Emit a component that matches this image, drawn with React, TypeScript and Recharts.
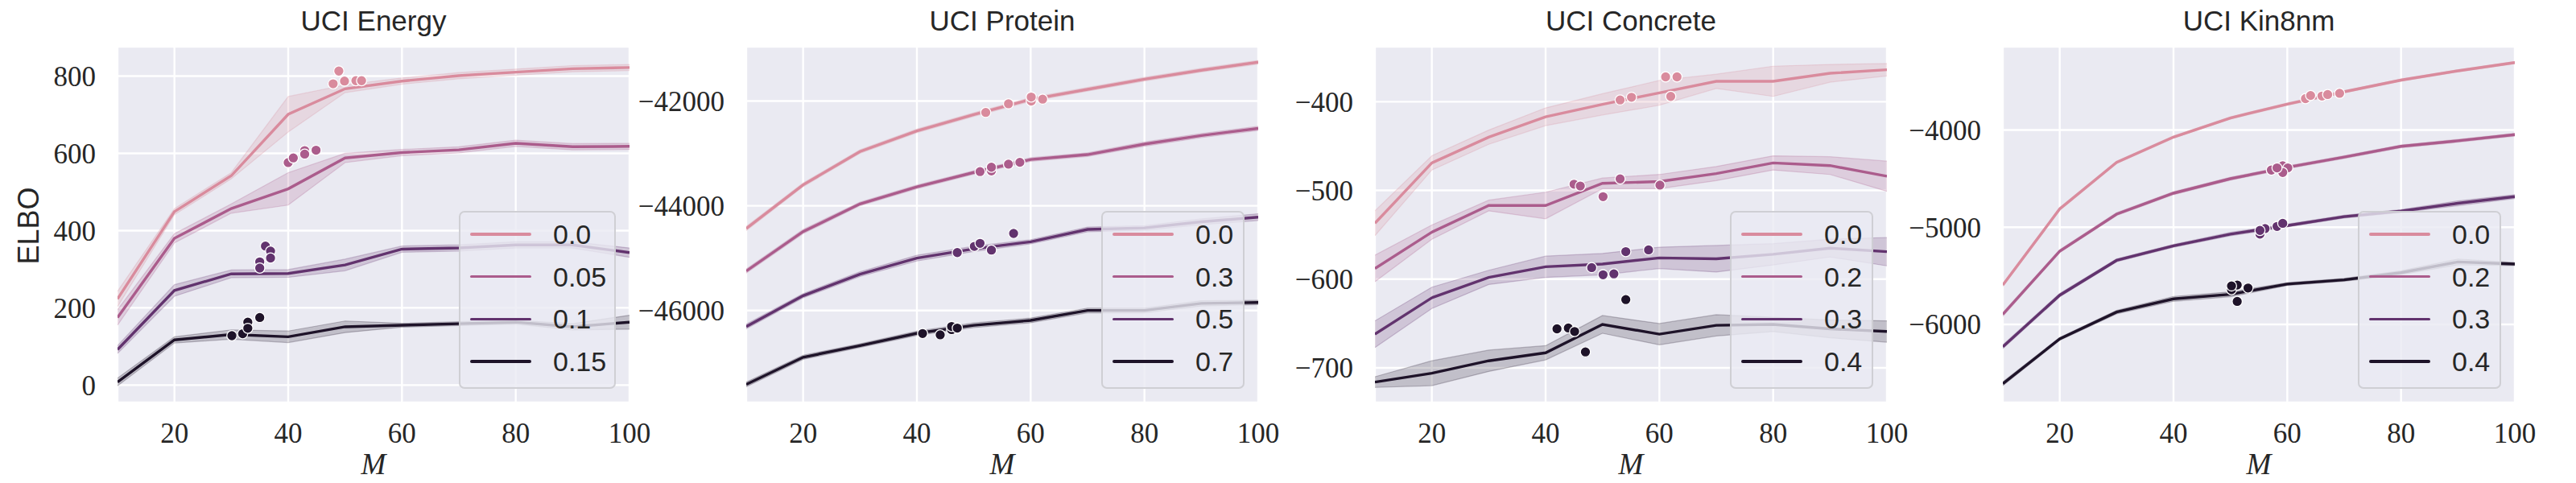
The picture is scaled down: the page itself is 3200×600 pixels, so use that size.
import React from 'react';
import { ComposedChart, Line, Area, Scatter, XAxis, YAxis, CartesianGrid } from 'recharts';

// ---------- data ----------
const M_VALUES = [10, 20, 30, 40, 50, 60, 70, 80, 90, 100];
const X_TICKS = [20, 40, 60, 80, 100];
const COLORS = ['#d98b9d', '#ab5c8c', '#62336e', '#1e1329'];

const TITLES = ['UCI Energy', 'UCI Protein', 'UCI Concrete', 'UCI Kin8nm'];

// UCI Energy
const ENERGY_LEVELS = ['0.0', '0.05', '0.1', '0.15'];
const ENERGY_TICKS = [0, 200, 400, 600, 800];
const ENERGY_DOMAIN = [-45, 876];
const ENERGY_MEAN = [
  [223, 449, 542, 701, 767, 787, 801, 810, 819, 822],
  [175, 380, 457, 508, 588, 602, 609, 626, 617, 618],
  [92, 245, 288, 289, 311, 352, 355, 363, 363, 343],
  [8, 117, 131, 125, 151, 155, 159, 163, 151, 163],
];
const ENERGY_SPREAD = [
  [20, 8, 8, 46, 10, 8, 8, 8, 8, 8],
  [20, 12, 12, 42, 12, 8, 8, 8, 8, 8],
  [10, 15, 10, 10, 15, 8, 8, 8, 8, 12],
  [10, 8, 12, 15, 15, 5, 5, 5, 8, 18],
];
const ENERGY_POINTS = [
  [[48.9, 813], [47.9, 780], [49.9, 787], [51.9, 788], [52.9, 788]],
  [[40.0, 576], [40.9, 588], [42.9, 607], [42.9, 598], [44.9, 608]],
  [[36.0, 360], [36.9, 347], [36.9, 329], [35.0, 319], [35.0, 303]],
  [[30.1, 128], [32.0, 133], [32.9, 163], [32.9, 147], [35.0, 175]],
];

// UCI Protein
const PROTEIN_LEVELS = ['0.0', '0.3', '0.5', '0.7'];
const PROTEIN_TICKS = [-46000, -44000, -42000];
const PROTEIN_DOMAIN = [-47755, -40963];
const PROTEIN_MEAN = [
  [-44434, -43600, -42964, -42570, -42259, -41971, -41777, -41583, -41412, -41259],
  [-45246, -44493, -43964, -43640, -43364, -43117, -43023, -42823, -42659, -42523],
  [-46305, -45716, -45305, -44999, -44822, -44687, -44452, -44423, -44305, -44217],
  [-47410, -46892, -46669, -46434, -46281, -46187, -45998, -45998, -45863, -45846],
];
const PROTEIN_SPREAD = [
  [40, 35, 35, 35, 35, 35, 35, 35, 35, 35],
  [40, 40, 35, 35, 35, 35, 35, 40, 40, 40],
  [45, 40, 45, 55, 50, 40, 45, 45, 55, 65],
  [45, 40, 35, 40, 45, 45, 45, 45, 50, 40],
];
const PROTEIN_POINTS = [
  [[52.1, -42218], [56.1, -42053], [60.1, -42000], [60.1, -41924], [62.1, -41965]],
  [[51.1, -43347], [53.1, -43335], [53.1, -43264], [56.1, -43205], [58.1, -43170]],
  [[47.1, -44893], [50.1, -44775], [51.1, -44717], [53.1, -44846], [57.0, -44528]],
  [[41.0, -46439], [44.1, -46463], [46.1, -46363], [46.1, -46304], [47.1, -46334]],
];

// UCI Concrete
const CONCRETE_LEVELS = ['0.0', '0.2', '0.3', '0.4'];
const CONCRETE_TICKS = [-700, -600, -500, -400];
const CONCRETE_DOMAIN = [-739, -338];
const CONCRETE_MEAN = [
  [-537, -469, -440, -417, -403, -390, -377, -377, -368, -364],
  [-588, -547, -517, -517, -492, -490, -481, -469, -472, -484],
  [-662, -621, -598, -586, -583, -576, -577, -572, -565, -569],
  [-716, -706, -692, -683, -651, -662, -652, -651, -656, -659],
];
const CONCRETE_SPREAD = [
  [14, 8, 8, 10, 12, 14, 8, 17, 10, 7],
  [15, 8, 6, 15, 6, 8, 8, 8, 10, 17],
  [15, 12, 8, 12, 12, 12, 15, 12, 10, 16],
  [6, 14, 12, 8, 10, 12, 12, 8, 10, 12],
];
const CONCRETE_POINTS = [
  [[53.1, -398], [55.1, -395], [61.1, -372], [63.1, -372], [62.0, -394]],
  [[45.0, -493], [46.1, -495], [50.1, -507], [53.1, -487], [60.1, -494]],
  [[48.1, -587], [50.1, -595], [52.0, -594], [54.1, -569], [58.1, -567]],
  [[42.0, -656], [44.0, -655], [45.1, -659], [47.0, -682], [54.1, -623]],
];

// UCI Kin8nm
const KIN_LEVELS = ['0.0', '0.2', '0.3', '0.4'];
const KIN_TICKS = [-6000, -5000, -4000];
const KIN_DOMAIN = [-6803, -3143];
const KIN_MEAN = [
  [-5594, -4812, -4333, -4073, -3876, -3734, -3607, -3487, -3391, -3306],
  [-5896, -5246, -4865, -4650, -4501, -4384, -4279, -4168, -4111, -4048],
  [-6229, -5699, -5341, -5192, -5071, -4983, -4891, -4834, -4754, -4685],
  [-6609, -6149, -5873, -5737, -5690, -5585, -5541, -5468, -5357, -5379],
];
const KIN_SPREAD = [
  [15, 15, 12, 12, 12, 12, 12, 12, 12, 12],
  [20, 15, 15, 15, 15, 15, 15, 15, 15, 15],
  [20, 18, 15, 15, 18, 15, 15, 15, 25, 20],
  [20, 15, 18, 25, 25, 15, 15, 20, 30, 15],
];
const KIN_POINTS = [
  [[63.2, -3677], [64.1, -3645], [66.1, -3651], [67.1, -3635], [69.2, -3623]],
  [[57.2, -4412], [59.2, -4368], [60.1, -4390], [59.2, -4437], [58.2, -4390]],
  [[55.2, -5071], [56.1, -5014], [58.2, -4992], [59.2, -4960], [55.2, -5033]],
  [[50.2, -5642], [51.2, -5595], [51.2, -5763], [53.1, -5626], [50.2, -5604]],
];

const PANELS = [
  { levels: ENERGY_LEVELS, ticks: ENERGY_TICKS, domain: ENERGY_DOMAIN, mean: ENERGY_MEAN, spread: ENERGY_SPREAD, points: ENERGY_POINTS },
  { levels: PROTEIN_LEVELS, ticks: PROTEIN_TICKS, domain: PROTEIN_DOMAIN, mean: PROTEIN_MEAN, spread: PROTEIN_SPREAD, points: PROTEIN_POINTS },
  { levels: CONCRETE_LEVELS, ticks: CONCRETE_TICKS, domain: CONCRETE_DOMAIN, mean: CONCRETE_MEAN, spread: CONCRETE_SPREAD, points: CONCRETE_POINTS },
  { levels: KIN_LEVELS, ticks: KIN_TICKS, domain: KIN_DOMAIN, mean: KIN_MEAN, spread: KIN_SPREAD, points: KIN_POINTS },
];

// ---------- layout ----------
const PLOT_LEFTS = [146, 927, 1708, 2488];
const PLOT_W = 636;
const PLOT_TOP = 58;
const PLOT_H = 442;
const Y_AXIS_W = 130;
const CHART_W = 822;
const CHART_H = 600;
const LEGEND_WIDTHS = [195, 178, 178, 178];

const TEXT = '#262626';
const SERIF = '"Liberation Serif", "DejaVu Serif", serif';
const SANS = '"Liberation Sans", "DejaVu Sans", sans-serif';

const fmt = (v: number) => (v < 0 ? '\u2212' + Math.abs(v) : String(v));

function buildRows(mean: number[][], spread: number[][]) {
  return M_VALUES.map((m, j) => {
    const r: Record<string, any> = { M: m };
    mean.forEach((s, i) => {
      r['m' + i] = s[j];
      r['b' + i] = [s[j] - spread[i][j], s[j] + spread[i][j]];
    });
    return r;
  });
}

function Dot(props: any) {
  const { cx, cy, fill } = props;
  if (cx == null || cy == null) return null;
  return <circle cx={cx} cy={cy} r={6.3} fill={fill} stroke="#ffffff" strokeWidth={1.3} />;
}

function Legend({ left, width, levels }: { left: number; width: number; levels: string[] }) {
  return (
    <div
      style={{
        position: 'absolute',
        left,
        top: 262,
        width,
        height: 221,
        boxSizing: 'border-box',
        border: '2px solid rgba(204,204,208,0.9)',
        borderRadius: 7,
        background: 'rgba(234,234,242,0.8)',
      }}
    >
      {levels.map((lv, i) => {
        const cy = 27 + i * 52.7;
        return (
          <React.Fragment key={lv}>
            <div
              style={{
                position: 'absolute',
                left: 12,
                top: cy - 1.7,
                width: 76,
                height: 3.4,
                borderRadius: 2,
                background: COLORS[i],
              }}
            />
            <div
              style={{
                position: 'absolute',
                left: 115,
                top: cy - 17,
                height: 34,
                lineHeight: '34px',
                fontSize: 34,
                fontFamily: SANS,
                color: TEXT,
                whiteSpace: 'nowrap',
              }}
            >
              {lv}
            </div>
          </React.Fragment>
        );
      })}
    </div>
  );
}

function AxisTick(props: any) {
  const { x, y, payload, orientation } = props;
  const isX = orientation === 'bottom';
  return (
    <text
      x={x}
      y={y}
      dy={isX ? '0.71em' : '0.355em'}
      textAnchor={isX ? 'middle' : 'end'}
      fontFamily={SERIF}
      fontSize={35}
      fill={TEXT}
    >
      {fmt(payload.value)}
    </text>
  );
}

function Panel({ idx }: { idx: number }) {
  const p = PANELS[idx];
  const rows = buildRows(p.mean, p.spread);
  const plotLeft = PLOT_LEFTS[idx];
  const chartLeft = plotLeft - 146;
  return (
    <div style={{ position: 'absolute', left: chartLeft, top: 0, width: CHART_W, height: CHART_H }}>
      <ComposedChart
        width={CHART_W}
        height={CHART_H}
        data={rows}
        margin={{ top: PLOT_TOP, right: CHART_W - 146 - PLOT_W, bottom: CHART_H - PLOT_TOP - PLOT_H - 40, left: 146 - Y_AXIS_W }}
      >
        <CartesianGrid fill="#eaeaf2" fillOpacity={1} stroke="#ffffff" strokeWidth={2.4} />
        <XAxis
          dataKey="M"
          type="number"
          domain={[10, 100]}
          ticks={X_TICKS}
          interval={0}
          allowDataOverflow
          axisLine={false}
          tickLine={false}
          tickSize={0}
          tickMargin={25}
          height={40}
          tick={<AxisTick orientation="bottom" />}
        />
        <YAxis
          type="number"
          domain={p.domain}
          ticks={p.ticks}
          interval={0}
          allowDataOverflow
          axisLine={false}
          tickLine={false}
          tickSize={0}
          tickMargin={27}
          width={Y_AXIS_W}
          tick={<AxisTick orientation="left" />}
        />
        {p.levels.map((lv, i) => (
          <Area
            key={'a' + lv}
            dataKey={'b' + i}
            type="linear"
            stroke={COLORS[i]}
            strokeOpacity={0.25}
            strokeWidth={1.2}
            fill={COLORS[i]}
            fillOpacity={0.2}
            dot={false}
            activeDot={false}
            isAnimationActive={false}
          />
        ))}
        {p.levels.map((lv, i) => (
          <Line
            key={'l' + lv}
            dataKey={'m' + i}
            type="linear"
            stroke={COLORS[i]}
            strokeWidth={3.4}
            dot={false}
            activeDot={false}
            isAnimationActive={false}
          />
        ))}
        {p.levels.map((lv, i) => (
          <Scatter
            key={'s' + lv}
            data={p.points[i].map(([x, y]) => ({ M: x, v: y }))}
            dataKey="v"
            fill={COLORS[i]}
            shape={(props: any) => <Dot {...props} fill={COLORS[i]} />}
            isAnimationActive={false}
          />
        ))}
      </ComposedChart>
      <Legend
        left={146 + PLOT_W - 17 - LEGEND_WIDTHS[idx]}
        width={LEGEND_WIDTHS[idx]}
        levels={p.levels}
      />
    </div>
  );
}

export default function App() {
  return (
    <div style={{ position: 'absolute', left: 0, top: 0, width: 3200, height: 600, background: '#ffffff' }}>
      <svg width={3200} height={600} style={{ position: 'absolute', left: 0, top: 0 }}>
        {TITLES.map((t, i) => (
          <text
            key={t}
            x={PLOT_LEFTS[i] + PLOT_W / 2}
            y={37.7}
            textAnchor="middle"
            fontFamily={SANS}
            fontSize={35}
            fill={TEXT}
          >
            {t}
          </text>
        ))}
        {TITLES.map((t, i) => (
          <text
            key={'M' + t}
            x={PLOT_LEFTS[i] + PLOT_W / 2}
            y={589}
            textAnchor="middle"
            fontFamily={SERIF}
            fontStyle="italic"
            fontSize={37}
            fill={TEXT}
          >
            M
          </text>
        ))}
        <text
          transform="translate(48.3,280.5) rotate(-90)"
          textAnchor="middle"
          fontFamily={SANS}
          fontSize={36}
          fill={TEXT}
        >
          ELBO
        </text>
      </svg>
      {PANELS.map((_, i) => (
        <Panel key={i} idx={i} />
      ))}
    </div>
  );
}
